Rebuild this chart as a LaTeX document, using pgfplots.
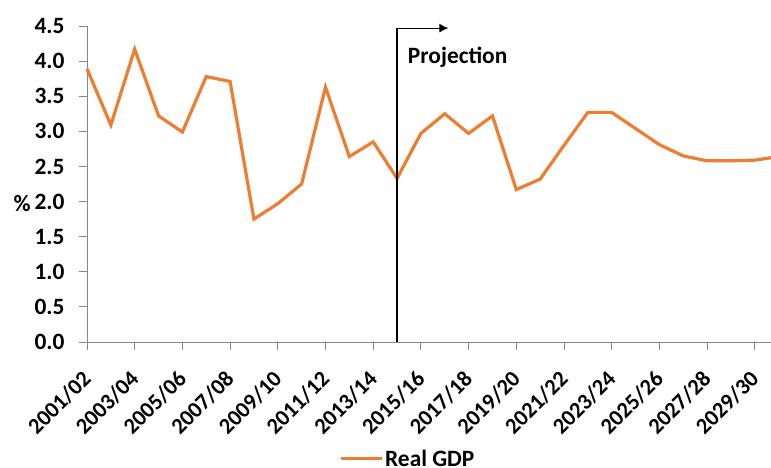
\documentclass[border=0pt]{standalone}
\usepackage{pgfplots}
\pgfplotsset{compat=1.18}
\usepackage{fontspec}
\setmainfont{Carlito}
\usetikzlibrary{arrows.meta}
\definecolor{gdporange}{HTML}{ED7D31}
\definecolor{axgray}{HTML}{868686}
\pgfplotstableread{
x y
0 3.89
1 3.09
2 4.17
3 3.22
4 2.99
5 3.78
6 3.71
7 1.75
8 1.97
9 2.25
10 3.63
11 2.64
12 2.85
13 2.33
14 2.97
15 3.25
16 2.97
17 3.22
18 2.17
19 2.32
20 2.80
21 3.27
22 3.27
23 3.04
24 2.81
25 2.65
26 2.58
27 2.58
28 2.59
29 2.64
}\gdpdata
\begin{document}
\begin{tikzpicture}
\path[use as bounding box] (0,0) rectangle (771bp,468bp);
\begin{axis}[
  at={(87bp,126bp)}, anchor=south west,
  scale only axis, width=684bp, height=316bp,
  xmin=0, xmax=28.68, ymin=0, ymax=4.5,
  clip=false,
  axis x line*=bottom, axis y line*=left,
  axis line style={axgray, line width=0.9bp, -},
  every tick/.style={axgray, line width=0.9bp},
  tick align=outside, major tick length=8bp,
  xtick={0,2,...,28},
  xticklabels={2001/02,2003/04,2005/06,2007/08,2009/10,2011/12,2013/14,2015/16,2017/18,2019/20,2021/22,2023/24,2025/26,2027/28,2029/30},
  ytick={0,0.5,...,4.5},
  yticklabel style={/pgf/number format/fixed, /pgf/number format/fixed zerofill, /pgf/number format/precision=1, /pgf/number format/assume math mode=true, font=\fontsize{23.4bp}{26bp}\selectfont\bfseries, xshift=-11bp},
  xticklabel style={xshift=-6bp, yshift=-19bp, rotate=45, anchor=north east, inner sep=0bp, font=\fontsize{22.5bp}{25bp}\selectfont\bfseries},
  ticklabel style={text=black},
  every axis y label/.style={at={(axis description cs:-0.082,0.437)}, anchor=east, inner sep=0pt, font=\fontsize{23.4bp}{26bp}\selectfont\bfseries},
  ylabel={\%},
  legend style={at={(0.469,-0.37)}, anchor=center, draw=none, fill=none, font=\fontsize{23.4bp}{26bp}\selectfont\bfseries, inner sep=0pt, nodes={inner sep=2bp}},
  legend image code/.code={\draw[#1, line width=3bp] (0bp,0bp) -- (41bp,0bp);},
]
\addplot[gdporange, line width=3.2bp, no markers] table[x=x, y=y] {\gdpdata};
\addlegendentry{Real GDP}
\draw[black, line width=2.6bp] (axis cs:13,0) -- (axis cs:13,4.47);
\draw[black, line width=0.9bp, -{Latex[length=9bp,width=9bp]}] (axis cs:13,4.47) -- (axis cs:15.15,4.47);
\node[anchor=west, font=\fontsize{23.4bp}{26bp}\selectfont\bfseries, inner sep=0pt] at (axis cs:13.45,4.06) {Projection};
\end{axis}
\end{tikzpicture}
\end{document}
